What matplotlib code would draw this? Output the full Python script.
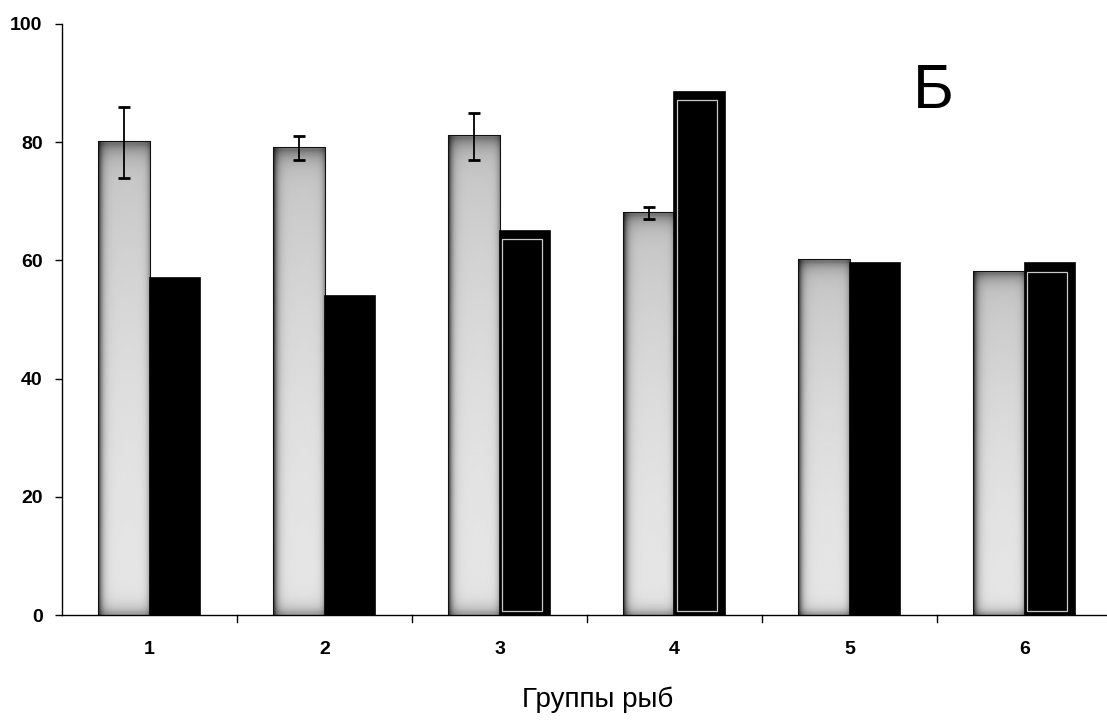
import numpy as np
import matplotlib
matplotlib.use("Agg")
import matplotlib.pyplot as plt
from matplotlib.patches import Rectangle

plt.rcParams['font.family'] = ['Liberation Sans', 'DejaVu Sans']

groups = ["1", "2", "3", "4", "5", "6"]
light_vals = [80, 79, 81, 68, 60, 58]
light_err = [6, 2, 4, 1, 0, 0]
dark_vals = [57, 54, 65, 88.5, 59.5, 59.5]
y_ticks = [0, 20, 40, 60, 80, 100]

W, H = 1107, 721
fig = plt.figure(figsize=(W / 100, H / 100), dpi=100)
ax = fig.add_axes([62 / W, 1 - 615 / H, 1050 / W, (615 - 24) / H])

x = np.arange(1, len(groups) + 1)
bw = 0.29

# grey shading for the light bars: dark rims, pale core
u = np.linspace(0, 1, 60)
prof_x = 0.9 - 0.6 * np.exp(-u / 0.07) - 0.3 * np.exp(-(1 - u) / 0.05)
v = np.linspace(0, 1, 120)
prof_y = 1 - 0.15 * v ** 2 - 0.35 * np.exp(-(1 - v) / 0.02) - 0.3 * np.exp(-v / 0.015)
shade = np.clip(prof_x[None, :] * prof_y[:, None], 0, 1)

light_bars = ax.bar(x - bw / 2, light_vals, width=bw, color='#cfcfcf',
                    edgecolor='#111111', linewidth=1.5, zorder=2)
for b in light_bars:
    x0, y0 = b.get_x(), b.get_y()
    im = ax.imshow(shade, cmap='gray', vmin=0, vmax=1, origin='lower',
                   extent=[x0, x0 + b.get_width(), y0, y0 + b.get_height()],
                   aspect='auto', zorder=2.5, interpolation='bilinear')
    im.set_clip_path(b)

ax.bar(x + bw / 2, dark_vals, width=bw, color='black', edgecolor='black',
       linewidth=1.2, zorder=3)

# inner light outline seen on some dark bars
for i in [2, 3, 5]:
    left = x[i] + 0.012
    ax.add_patch(Rectangle((left, 0.6), bw - 0.06, dark_vals[i] - 2.0,
                           fill=False, edgecolor='#c8c8c8',
                           linewidth=0.9, zorder=3.5))

for i, (val, e) in enumerate(zip(light_vals, light_err)):
    if e > 0:
        ax.errorbar(x[i] - bw / 2, val, yerr=e, fmt='none', ecolor='black',
                    elinewidth=1.3, capsize=4, capthick=2, zorder=4)

ax.set_xlim(0.5, len(groups) + 0.5)
ax.set_ylim(0, 100)
ax.set_yticks(y_ticks)
ax.set_yticklabels([str(t) for t in y_ticks], fontsize=14, fontweight='bold')

ax.set_xticks(x)
ax.set_xticklabels(groups, fontsize=14, fontweight='bold')
ax.tick_params(axis='x', length=0, pad=19)
for b in np.arange(1.5, len(groups) + 0.5, 1.0):
    ax.plot([b, b], [0, -1.2], color='black', lw=1, clip_on=False)

ax.tick_params(axis='y', length=5, width=1, direction='out', pad=9)
for s in ['top', 'right']:
    ax.spines[s].set_visible(False)
ax.spines['left'].set_linewidth(1.0)
ax.spines['bottom'].set_linewidth(1.0)

fig.text(933 / W, 1 - 91 / H, "Б", fontsize=45, ha='center', va='center')
fig.text(598 / W, 1 - 700 / H, "Группы рыб", fontsize=20, ha='center', va='center')

fig.savefig("out.png", dpi=100, facecolor='white')
